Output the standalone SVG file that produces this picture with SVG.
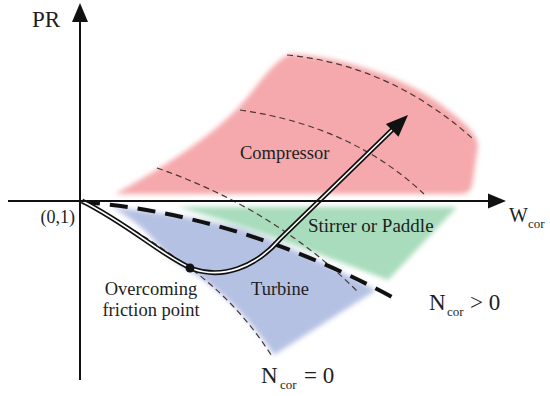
<svg xmlns="http://www.w3.org/2000/svg" width="550" height="396" viewBox="0 0 550 396">
<defs>
<style>
.lbl{font-family:"Liberation Serif","DejaVu Serif","Times New Roman",serif;fill:#1e1e1e}
.axis{stroke:#111;stroke-width:2;fill:none}
.spd{stroke:#4a3636;stroke-width:1.2;fill:none;stroke-dasharray:6 4}
</style>
<filter id="soft" x="-10%" y="-10%" width="120%" height="120%"><feGaussianBlur stdDeviation="2.5"/></filter>
</defs>
<rect width="550" height="396" fill="#fff"/>
<g id="regions" filter="url(#soft)">
<path id="compressor-region" d="M115,194 C155,172 205,142 238,108 C258,86 272,62 290,54 C330,55 400,74 440,104 C462,120 478,134 478,146 L472,186 Q470,194 460,194 Z" fill="#f5a9ac"/>
<path id="stirrer-region" d="M178,207 L457,207 L388,280 Q345,264 305,249 Q245,226 178,207 Z" fill="#a8dcbc"/>
<path id="turbine-region" d="M112,207 Q180,214 240,228 Q305,252 376,290 L274,355 Q240,305 198,276 Q172,262 152,238 Q135,220 112,207 Z" fill="#b5c1e3"/>
</g>
<g id="connectors">
<path class="spd" d="M287,55 Q390,65 472,138"/>
<path class="spd" d="M240,110 Q352,126 424,194"/>
<path class="spd" d="M157,168 Q275,209 358,292"/>
<path class="spd" stroke="#333" d="M82,202 C125,222 165,250 190,268 Q240,305 273,358"/>
<path d="M82,202 Q237,214 392,297" stroke="#111" stroke-width="4" fill="none" stroke-dasharray="18 10"/>
<path d="M82,201 C130,225 165,258 193,269 C222,279 255,268 280,239 L393,129" stroke="#111" stroke-width="5" fill="none"/>
<path d="M82,201 C130,225 165,258 193,269 C222,279 255,268 280,239 L393,129" stroke="#fff" stroke-width="1.6" fill="none"/>
<polygon points="408,115 398.5,136.8 385.9,124" fill="#111"/>
<line class="axis" x1="80" y1="380" x2="80" y2="18"/>
<polygon points="80,3 72,22 88,22" fill="#111"/>
<line class="axis" x1="8" y1="201" x2="490" y2="201"/>
<polygon points="506,201 488,193.5 488,208.5" fill="#111"/>
</g>
<g id="friction-point"><circle cx="190" cy="268" r="4.5" fill="#111"/></g>
<g id="axis-labels">
<text class="lbl" font-family="Liberation Serif, DejaVu Serif, serif" x="32" y="27" font-size="23">PR</text>
<text class="lbl" font-family="Liberation Serif, DejaVu Serif, serif" x="509" y="222" font-size="20">W</text>
<text class="lbl" font-family="Liberation Serif, DejaVu Serif, serif" x="528" y="228" font-size="13">cor</text>
<text class="lbl" font-family="Liberation Serif, DejaVu Serif, serif" x="75" y="223" font-size="18" text-anchor="end">(0,1)</text>
</g>
<g id="compressor"><text class="lbl" font-family="Liberation Serif, DejaVu Serif, serif" x="240" y="159" font-size="18.5">Compressor</text></g>
<g id="stirrer"><text class="lbl" font-family="Liberation Serif, DejaVu Serif, serif" x="308" y="232" font-size="19">Stirrer or Paddle</text></g>
<g id="turbine"><text class="lbl" font-family="Liberation Serif, DejaVu Serif, serif" x="251" y="295" font-size="18.5">Turbine</text></g>
<g id="friction-label">
<text class="lbl" font-family="Liberation Serif, DejaVu Serif, serif" x="151" y="295" font-size="18.5" text-anchor="middle">Overcoming</text>
<text class="lbl" font-family="Liberation Serif, DejaVu Serif, serif" x="151" y="316" font-size="18.5" text-anchor="middle">friction point</text>
</g>
<g id="ncor-pos">
<text class="lbl" font-family="Liberation Serif, DejaVu Serif, serif" x="429" y="310" font-size="23">N</text>
<text class="lbl" font-family="Liberation Serif, DejaVu Serif, serif" x="447" y="316" font-size="13">cor</text>
<text class="lbl" font-family="Liberation Serif, DejaVu Serif, serif" x="470" y="310" font-size="23">&gt; 0</text>
</g>
<g id="ncor-zero">
<text class="lbl" font-family="Liberation Serif, DejaVu Serif, serif" x="261" y="383" font-size="23">N</text>
<text class="lbl" font-family="Liberation Serif, DejaVu Serif, serif" x="280" y="389" font-size="13">cor</text>
<text class="lbl" font-family="Liberation Serif, DejaVu Serif, serif" x="304" y="383" font-size="23">= 0</text>
</g>
</svg>
